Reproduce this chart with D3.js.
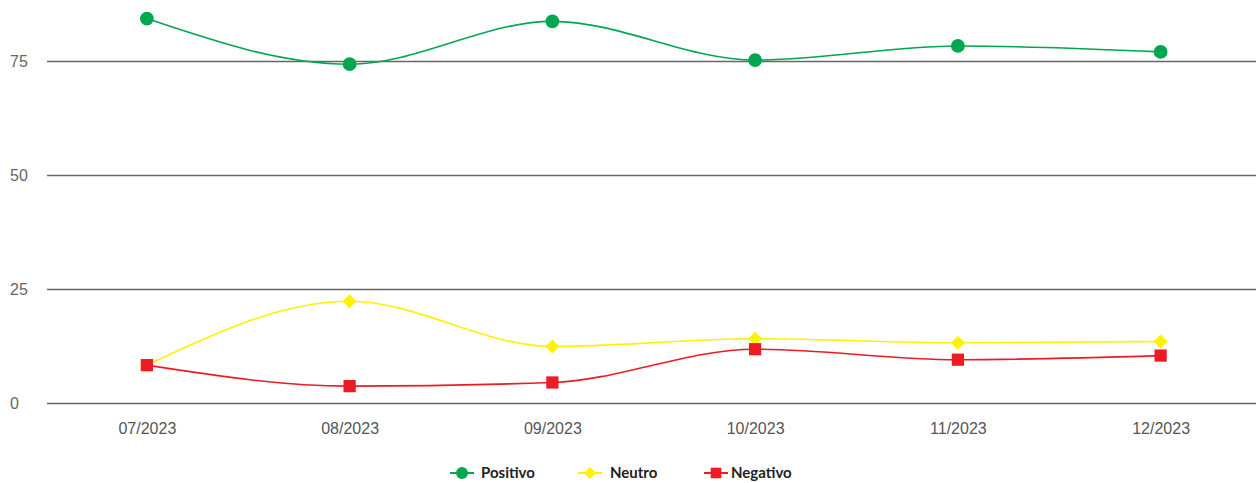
<!DOCTYPE html>
<html>
<head>
<meta charset="utf-8">
<script src="https://cdn.jsdelivr.net/npm/d3@7"></script>
<style>
  body { margin: 0; background: #fff; }
  svg { display: block; font-family: Lato, "Open Sans", sans-serif; }
</style>
</head>
<body>
<div id="chart"></div>
<script>
// dati
var months = ["07/2023", "08/2023", "09/2023", "10/2023", "11/2023", "12/2023"];
var positivo = [84.3, 74.3, 83.7, 75.2, 78.3, 77.0];
var neutro = [8.3, 22.3, 12.4, 14.1, 13.2, 13.5];
var negativo = [8.3, 3.7, 4.5, 11.8, 9.5, 10.4];
var yTicks = [0, 25, 50, 75];
var seriesNames = ["Positivo", "Neutro", "Negativo"];

var width = 1260, height = 483;
var colors = ["#00a650", "#fff200", "#ed1c24"];

// simboli: cerchio, rombo (quadrato ruotato), quadrato
function marker(s, k) {
	if (s == 0) return d3.symbol().type(d3.symbolCircle).size(150 * k)();
	if (s == 2) return d3.symbol().type(d3.symbolSquare).size(150 * k)();
	var r = 7 * Math.sqrt(k);
	return "M0," + (-r) + "L" + r + ",0L0," + r + "L" + (-r) + ",0Z";
}

var svg = d3.select("#chart").append("svg")
	.attr("width", width).attr("height", height);

var x = d3.scalePoint().domain(months).range([45.5, 1262]).padding(0.5);
var y = d3.scaleLinear().domain([0, 75]).range([403, 61]);

// griglia
var yAxis = d3.axisLeft(y).tickValues(yTicks).tickSize(-(1256 - 47)).tickPadding(22);
var gy = svg.append("g").attr("transform", "translate(47,0)").call(yAxis);
gy.select(".domain").remove();
gy.selectAll(".tick line").attr("stroke", "#666").attr("stroke-width", 1.3);
gy.selectAll(".tick text").attr("fill", "#666").attr("font-size", 16)
	.attr("text-anchor", "start").attr("x", -37);

var xAxis = d3.axisBottom(x).tickSize(0).tickPadding(13);
var gx = svg.append("g").attr("transform", "translate(0,410)").call(xAxis);
gx.select(".domain").remove();
gx.selectAll(".tick text").attr("fill", "#555").attr("font-size", 16);

var data = [positivo, neutro, negativo];
var line = d3.line()
	.x(function(d, i) { return x(months[i]); })
	.y(function(d) { return y(d); })
	.curve(d3.curveMonotoneX);

// disegna dal basso: neutro, negativo, positivo
[1, 2, 0].forEach(function(s) {
	var g = svg.append("g");
	g.append("path").datum(data[s]).attr("d", line)
		.attr("fill", "none").attr("stroke", colors[s]).attr("stroke-width", 1.6);
	g.selectAll("path.pt").data(data[s]).enter().append("path")
		.attr("class", "pt")
		.attr("d", marker(s, 1))
		.attr("transform", function(d, i) { return "translate(" + x(months[i]) + "," + y(d) + ")"; })
		.attr("fill", colors[s]);
});

// legenda
var legendX = [462, 590, 716];
var legend = svg.append("g").attr("transform", "translate(0,473)");
seriesNames.forEach(function(n, s) {
	var lg = legend.append("g").attr("transform", "translate(" + legendX[s] + ",0)");
	lg.append("line").attr("x1", -12).attr("x2", 12)
		.attr("stroke", colors[s]).attr("stroke-width", 2);
	lg.append("path").attr("d", marker(s, 0.75)).attr("fill", colors[s]);
	lg.append("text").attr("x", s == 0 ? 19 : (s == 1 ? 20 : 15)).attr("dy", "0.35em")
		.attr("font-size", 15).attr("font-weight", 700).attr("fill", "#222").text(n);
});
</script>
</body>
</html>
